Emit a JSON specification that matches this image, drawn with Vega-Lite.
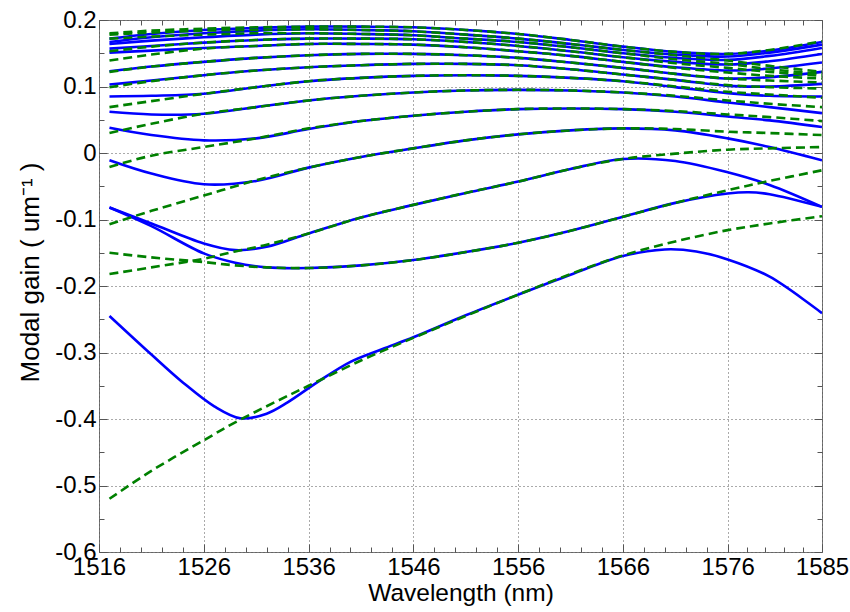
{
"$schema": "https://vega.github.io/schema/vega-lite/v6.json",
"width": 723, "height": 532,
"autosize": {"type": "none"},
"padding": {"left": 99, "top": 20, "right": 28, "bottom": 60},
"background": "white",
"config": {
  "view": {"stroke": "#777777", "strokeWidth": 1},
  "font": "Liberation Sans",
  "axis": {"labelFont": "Liberation Sans", "titleFont": "Liberation Sans", "labelFontSize": 24, "titleFontSize": 24.5, "labelColor": "#000000", "titleColor": "#000000", "titleFontWeight": "normal", "domain": false, "tickColor": "#555555", "tickWidth": 1, "gridColor": "#555555", "gridDash": [1, 3], "gridWidth": 1, "gridOpacity": 1, "labelFlush": false, "labelOverlap": false, "labelBound": false}
},
"datasets": {
"curves": [
{"c":"t1","k":"fit","wl":1517,"g":0.180},{"c":"t1","k":"fit","wl":1521,"g":0.184},{"c":"t1","k":"fit","wl":1526,"g":0.187},{"c":"t1","k":"fit","wl":1531,"g":0.189},{"c":"t1","k":"fit","wl":1536,"g":0.190},{"c":"t1","k":"fit","wl":1541,"g":0.190},{"c":"t1","k":"fit","wl":1546,"g":0.189},{"c":"t1","k":"fit","wl":1551,"g":0.185},{"c":"t1","k":"fit","wl":1556,"g":0.179},{"c":"t1","k":"fit","wl":1561,"g":0.170},{"c":"t1","k":"fit","wl":1566,"g":0.160},{"c":"t1","k":"fit","wl":1571,"g":0.152},{"c":"t1","k":"fit","wl":1576,"g":0.149},{"c":"t1","k":"fit","wl":1580,"g":0.155},{"c":"t1","k":"fit","wl":1585,"g":0.168},
{"c":"t1","k":"calc","wl":1517,"g":0.172},{"c":"t1","k":"calc","wl":1521,"g":0.179},{"c":"t1","k":"calc","wl":1526,"g":0.185},{"c":"t1","k":"calc","wl":1531,"g":0.188},{"c":"t1","k":"calc","wl":1536,"g":0.190},{"c":"t1","k":"calc","wl":1541,"g":0.190},{"c":"t1","k":"calc","wl":1546,"g":0.189},{"c":"t1","k":"calc","wl":1551,"g":0.185},{"c":"t1","k":"calc","wl":1556,"g":0.179},{"c":"t1","k":"calc","wl":1561,"g":0.170},{"c":"t1","k":"calc","wl":1566,"g":0.160},{"c":"t1","k":"calc","wl":1571,"g":0.152},{"c":"t1","k":"calc","wl":1576,"g":0.149},{"c":"t1","k":"calc","wl":1580,"g":0.154},{"c":"t1","k":"calc","wl":1585,"g":0.167},
{"c":"t2","k":"fit","wl":1517,"g":0.178},{"c":"t2","k":"fit","wl":1521,"g":0.181},{"c":"t2","k":"fit","wl":1526,"g":0.184},{"c":"t2","k":"fit","wl":1531,"g":0.185},{"c":"t2","k":"fit","wl":1536,"g":0.186},{"c":"t2","k":"fit","wl":1541,"g":0.185},{"c":"t2","k":"fit","wl":1546,"g":0.183},{"c":"t2","k":"fit","wl":1551,"g":0.178},{"c":"t2","k":"fit","wl":1556,"g":0.172},{"c":"t2","k":"fit","wl":1561,"g":0.164},{"c":"t2","k":"fit","wl":1566,"g":0.155},{"c":"t2","k":"fit","wl":1571,"g":0.147},{"c":"t2","k":"fit","wl":1576,"g":0.139},{"c":"t2","k":"fit","wl":1580,"g":0.131},{"c":"t2","k":"fit","wl":1585,"g":0.122},
{"c":"t2","k":"calc","wl":1517,"g":0.167},{"c":"t2","k":"calc","wl":1521,"g":0.174},{"c":"t2","k":"calc","wl":1526,"g":0.180},{"c":"t2","k":"calc","wl":1531,"g":0.184},{"c":"t2","k":"calc","wl":1536,"g":0.186},{"c":"t2","k":"calc","wl":1541,"g":0.185},{"c":"t2","k":"calc","wl":1546,"g":0.183},{"c":"t2","k":"calc","wl":1551,"g":0.178},{"c":"t2","k":"calc","wl":1556,"g":0.172},{"c":"t2","k":"calc","wl":1561,"g":0.164},{"c":"t2","k":"calc","wl":1566,"g":0.155},{"c":"t2","k":"calc","wl":1571,"g":0.148},{"c":"t2","k":"calc","wl":1576,"g":0.145},{"c":"t2","k":"calc","wl":1580,"g":0.151},{"c":"t2","k":"calc","wl":1585,"g":0.163},
{"c":"t3","k":"fit","wl":1517,"g":0.172},{"c":"t3","k":"fit","wl":1521,"g":0.175},{"c":"t3","k":"fit","wl":1526,"g":0.178},{"c":"t3","k":"fit","wl":1531,"g":0.180},{"c":"t3","k":"fit","wl":1536,"g":0.180},{"c":"t3","k":"fit","wl":1541,"g":0.179},{"c":"t3","k":"fit","wl":1546,"g":0.177},{"c":"t3","k":"fit","wl":1551,"g":0.172},{"c":"t3","k":"fit","wl":1556,"g":0.167},{"c":"t3","k":"fit","wl":1561,"g":0.159},{"c":"t3","k":"fit","wl":1566,"g":0.150},{"c":"t3","k":"fit","wl":1571,"g":0.141},{"c":"t3","k":"fit","wl":1576,"g":0.134},{"c":"t3","k":"fit","wl":1580,"g":0.126},{"c":"t3","k":"fit","wl":1585,"g":0.119},
{"c":"t3","k":"calc","wl":1517,"g":0.164},{"c":"t3","k":"calc","wl":1521,"g":0.169},{"c":"t3","k":"calc","wl":1526,"g":0.174},{"c":"t3","k":"calc","wl":1531,"g":0.178},{"c":"t3","k":"calc","wl":1536,"g":0.180},{"c":"t3","k":"calc","wl":1541,"g":0.179},{"c":"t3","k":"calc","wl":1546,"g":0.177},{"c":"t3","k":"calc","wl":1551,"g":0.172},{"c":"t3","k":"calc","wl":1556,"g":0.167},{"c":"t3","k":"calc","wl":1561,"g":0.159},{"c":"t3","k":"calc","wl":1566,"g":0.150},{"c":"t3","k":"calc","wl":1571,"g":0.143},{"c":"t3","k":"calc","wl":1576,"g":0.140},{"c":"t3","k":"calc","wl":1580,"g":0.146},{"c":"t3","k":"calc","wl":1585,"g":0.158},
{"c":"t4","k":"fit","wl":1517,"g":0.153},{"c":"t4","k":"fit","wl":1521,"g":0.160},{"c":"t4","k":"fit","wl":1526,"g":0.166},{"c":"t4","k":"fit","wl":1531,"g":0.170},{"c":"t4","k":"fit","wl":1536,"g":0.172},{"c":"t4","k":"fit","wl":1541,"g":0.172},{"c":"t4","k":"fit","wl":1546,"g":0.171},{"c":"t4","k":"fit","wl":1551,"g":0.167},{"c":"t4","k":"fit","wl":1556,"g":0.161},{"c":"t4","k":"fit","wl":1561,"g":0.153},{"c":"t4","k":"fit","wl":1566,"g":0.144},{"c":"t4","k":"fit","wl":1571,"g":0.135},{"c":"t4","k":"fit","wl":1576,"g":0.128},{"c":"t4","k":"fit","wl":1580,"g":0.122},{"c":"t4","k":"fit","wl":1585,"g":0.116},
{"c":"t4","k":"calc","wl":1517,"g":0.157},{"c":"t4","k":"calc","wl":1521,"g":0.161},{"c":"t4","k":"calc","wl":1526,"g":0.166},{"c":"t4","k":"calc","wl":1531,"g":0.170},{"c":"t4","k":"calc","wl":1536,"g":0.172},{"c":"t4","k":"calc","wl":1541,"g":0.172},{"c":"t4","k":"calc","wl":1546,"g":0.171},{"c":"t4","k":"calc","wl":1551,"g":0.167},{"c":"t4","k":"calc","wl":1556,"g":0.161},{"c":"t4","k":"calc","wl":1561,"g":0.153},{"c":"t4","k":"calc","wl":1566,"g":0.144},{"c":"t4","k":"calc","wl":1571,"g":0.137},{"c":"t4","k":"calc","wl":1576,"g":0.133},{"c":"t4","k":"calc","wl":1580,"g":0.138},{"c":"t4","k":"calc","wl":1585,"g":0.149},
{"c":"t5","k":"fit","wl":1517,"g":0.139},{"c":"t5","k":"fit","wl":1521,"g":0.148},{"c":"t5","k":"fit","wl":1526,"g":0.157},{"c":"t5","k":"fit","wl":1531,"g":0.161},{"c":"t5","k":"fit","wl":1536,"g":0.164},{"c":"t5","k":"fit","wl":1541,"g":0.164},{"c":"t5","k":"fit","wl":1546,"g":0.163},{"c":"t5","k":"fit","wl":1551,"g":0.159},{"c":"t5","k":"fit","wl":1556,"g":0.153},{"c":"t5","k":"fit","wl":1561,"g":0.146},{"c":"t5","k":"fit","wl":1566,"g":0.137},{"c":"t5","k":"fit","wl":1571,"g":0.128},{"c":"t5","k":"fit","wl":1576,"g":0.121},{"c":"t5","k":"fit","wl":1580,"g":0.116},{"c":"t5","k":"fit","wl":1585,"g":0.112},
{"c":"t5","k":"calc","wl":1517,"g":0.151},{"c":"t5","k":"calc","wl":1521,"g":0.154},{"c":"t5","k":"calc","wl":1526,"g":0.158},{"c":"t5","k":"calc","wl":1531,"g":0.161},{"c":"t5","k":"calc","wl":1536,"g":0.164},{"c":"t5","k":"calc","wl":1541,"g":0.164},{"c":"t5","k":"calc","wl":1546,"g":0.163},{"c":"t5","k":"calc","wl":1551,"g":0.159},{"c":"t5","k":"calc","wl":1556,"g":0.153},{"c":"t5","k":"calc","wl":1561,"g":0.146},{"c":"t5","k":"calc","wl":1566,"g":0.137},{"c":"t5","k":"calc","wl":1571,"g":0.129},{"c":"t5","k":"calc","wl":1576,"g":0.124},{"c":"t5","k":"calc","wl":1580,"g":0.127},{"c":"t5","k":"calc","wl":1585,"g":0.136},
{"c":"p6","k":"fit","wl":1517,"g":0.122},{"c":"p6","k":"fit","wl":1521,"g":0.130},{"c":"p6","k":"fit","wl":1526,"g":0.137},{"c":"p6","k":"fit","wl":1531,"g":0.143},{"c":"p6","k":"fit","wl":1536,"g":0.147},{"c":"p6","k":"fit","wl":1541,"g":0.149},{"c":"p6","k":"fit","wl":1546,"g":0.149},{"c":"p6","k":"fit","wl":1551,"g":0.147},{"c":"p6","k":"fit","wl":1556,"g":0.143},{"c":"p6","k":"fit","wl":1561,"g":0.136},{"c":"p6","k":"fit","wl":1566,"g":0.128},{"c":"p6","k":"fit","wl":1571,"g":0.119},{"c":"p6","k":"fit","wl":1576,"g":0.112},{"c":"p6","k":"fit","wl":1580,"g":0.109},{"c":"p6","k":"fit","wl":1585,"g":0.106},
{"c":"p6","k":"calc","wl":1517,"g":0.123},{"c":"p6","k":"calc","wl":1521,"g":0.130},{"c":"p6","k":"calc","wl":1526,"g":0.137},{"c":"p6","k":"calc","wl":1531,"g":0.143},{"c":"p6","k":"calc","wl":1536,"g":0.147},{"c":"p6","k":"calc","wl":1541,"g":0.149},{"c":"p6","k":"calc","wl":1546,"g":0.149},{"c":"p6","k":"calc","wl":1551,"g":0.147},{"c":"p6","k":"calc","wl":1556,"g":0.143},{"c":"p6","k":"calc","wl":1561,"g":0.136},{"c":"p6","k":"calc","wl":1566,"g":0.128},{"c":"p6","k":"calc","wl":1571,"g":0.119},{"c":"p6","k":"calc","wl":1576,"g":0.112},{"c":"p6","k":"calc","wl":1580,"g":0.114},{"c":"p6","k":"calc","wl":1585,"g":0.122},
{"c":"p7","k":"fit","wl":1517,"g":0.099},{"c":"p7","k":"fit","wl":1521,"g":0.108},{"c":"p7","k":"fit","wl":1526,"g":0.117},{"c":"p7","k":"fit","wl":1531,"g":0.124},{"c":"p7","k":"fit","wl":1536,"g":0.129},{"c":"p7","k":"fit","wl":1541,"g":0.132},{"c":"p7","k":"fit","wl":1546,"g":0.134},{"c":"p7","k":"fit","wl":1551,"g":0.134},{"c":"p7","k":"fit","wl":1556,"g":0.132},{"c":"p7","k":"fit","wl":1561,"g":0.126},{"c":"p7","k":"fit","wl":1566,"g":0.118},{"c":"p7","k":"fit","wl":1571,"g":0.110},{"c":"p7","k":"fit","wl":1576,"g":0.102},{"c":"p7","k":"fit","wl":1580,"g":0.099},{"c":"p7","k":"fit","wl":1585,"g":0.097},
{"c":"p7","k":"calc","wl":1517,"g":0.103},{"c":"p7","k":"calc","wl":1521,"g":0.109},{"c":"p7","k":"calc","wl":1526,"g":0.117},{"c":"p7","k":"calc","wl":1531,"g":0.124},{"c":"p7","k":"calc","wl":1536,"g":0.129},{"c":"p7","k":"calc","wl":1541,"g":0.132},{"c":"p7","k":"calc","wl":1546,"g":0.134},{"c":"p7","k":"calc","wl":1551,"g":0.134},{"c":"p7","k":"calc","wl":1556,"g":0.132},{"c":"p7","k":"calc","wl":1561,"g":0.126},{"c":"p7","k":"calc","wl":1566,"g":0.118},{"c":"p7","k":"calc","wl":1571,"g":0.110},{"c":"p7","k":"calc","wl":1576,"g":0.101},{"c":"p7","k":"calc","wl":1580,"g":0.100},{"c":"p7","k":"calc","wl":1585,"g":0.104},
{"c":"p8","k":"fit","wl":1517,"g":0.069},{"c":"p8","k":"fit","wl":1521,"g":0.078},{"c":"p8","k":"fit","wl":1526,"g":0.089},{"c":"p8","k":"fit","wl":1531,"g":0.099},{"c":"p8","k":"fit","wl":1536,"g":0.108},{"c":"p8","k":"fit","wl":1541,"g":0.113},{"c":"p8","k":"fit","wl":1546,"g":0.116},{"c":"p8","k":"fit","wl":1551,"g":0.117},{"c":"p8","k":"fit","wl":1556,"g":0.116},{"c":"p8","k":"fit","wl":1561,"g":0.113},{"c":"p8","k":"fit","wl":1566,"g":0.108},{"c":"p8","k":"fit","wl":1571,"g":0.100},{"c":"p8","k":"fit","wl":1576,"g":0.092},{"c":"p8","k":"fit","wl":1580,"g":0.088},{"c":"p8","k":"fit","wl":1585,"g":0.083},
{"c":"p8","k":"calc","wl":1517,"g":0.085},{"c":"p8","k":"calc","wl":1521,"g":0.086},{"c":"p8","k":"calc","wl":1526,"g":0.089},{"c":"p8","k":"calc","wl":1531,"g":0.099},{"c":"p8","k":"calc","wl":1536,"g":0.108},{"c":"p8","k":"calc","wl":1541,"g":0.113},{"c":"p8","k":"calc","wl":1546,"g":0.116},{"c":"p8","k":"calc","wl":1551,"g":0.117},{"c":"p8","k":"calc","wl":1556,"g":0.116},{"c":"p8","k":"calc","wl":1561,"g":0.113},{"c":"p8","k":"calc","wl":1566,"g":0.108},{"c":"p8","k":"calc","wl":1571,"g":0.099},{"c":"p8","k":"calc","wl":1576,"g":0.090},{"c":"p8","k":"calc","wl":1580,"g":0.086},{"c":"p8","k":"calc","wl":1585,"g":0.085},
{"c":"p9","k":"fit","wl":1517,"g":0.030},{"c":"p9","k":"fit","wl":1521,"g":0.044},{"c":"p9","k":"fit","wl":1526,"g":0.059},{"c":"p9","k":"fit","wl":1531,"g":0.069},{"c":"p9","k":"fit","wl":1536,"g":0.079},{"c":"p9","k":"fit","wl":1541,"g":0.086},{"c":"p9","k":"fit","wl":1546,"g":0.091},{"c":"p9","k":"fit","wl":1551,"g":0.094},{"c":"p9","k":"fit","wl":1556,"g":0.095},{"c":"p9","k":"fit","wl":1561,"g":0.094},{"c":"p9","k":"fit","wl":1566,"g":0.091},{"c":"p9","k":"fit","wl":1571,"g":0.086},{"c":"p9","k":"fit","wl":1576,"g":0.079},{"c":"p9","k":"fit","wl":1580,"g":0.074},{"c":"p9","k":"fit","wl":1585,"g":0.069},
{"c":"p9","k":"calc","wl":1517,"g":0.062},{"c":"p9","k":"calc","wl":1521,"g":0.058},{"c":"p9","k":"calc","wl":1526,"g":0.059},{"c":"p9","k":"calc","wl":1531,"g":0.069},{"c":"p9","k":"calc","wl":1536,"g":0.079},{"c":"p9","k":"calc","wl":1541,"g":0.086},{"c":"p9","k":"calc","wl":1546,"g":0.091},{"c":"p9","k":"calc","wl":1551,"g":0.094},{"c":"p9","k":"calc","wl":1556,"g":0.095},{"c":"p9","k":"calc","wl":1561,"g":0.094},{"c":"p9","k":"calc","wl":1566,"g":0.091},{"c":"p9","k":"calc","wl":1571,"g":0.085},{"c":"p9","k":"calc","wl":1576,"g":0.076},{"c":"p9","k":"calc","wl":1580,"g":0.069},{"c":"p9","k":"calc","wl":1585,"g":0.060},
{"c":"p10","k":"fit","wl":1517,"g":-0.021},{"c":"p10","k":"fit","wl":1521,"g":-0.004},{"c":"p10","k":"fit","wl":1526,"g":0.009},{"c":"p10","k":"fit","wl":1531,"g":0.022},{"c":"p10","k":"fit","wl":1536,"g":0.037},{"c":"p10","k":"fit","wl":1541,"g":0.048},{"c":"p10","k":"fit","wl":1546,"g":0.056},{"c":"p10","k":"fit","wl":1551,"g":0.062},{"c":"p10","k":"fit","wl":1556,"g":0.066},{"c":"p10","k":"fit","wl":1561,"g":0.067},{"c":"p10","k":"fit","wl":1566,"g":0.066},{"c":"p10","k":"fit","wl":1571,"g":0.063},{"c":"p10","k":"fit","wl":1576,"g":0.058},{"c":"p10","k":"fit","wl":1580,"g":0.054},{"c":"p10","k":"fit","wl":1585,"g":0.048},
{"c":"p10","k":"calc","wl":1517,"g":0.038},{"c":"p10","k":"calc","wl":1521,"g":0.027},{"c":"p10","k":"calc","wl":1526,"g":0.019},{"c":"p10","k":"calc","wl":1531,"g":0.022},{"c":"p10","k":"calc","wl":1536,"g":0.036},{"c":"p10","k":"calc","wl":1541,"g":0.048},{"c":"p10","k":"calc","wl":1546,"g":0.056},{"c":"p10","k":"calc","wl":1551,"g":0.062},{"c":"p10","k":"calc","wl":1556,"g":0.066},{"c":"p10","k":"calc","wl":1561,"g":0.067},{"c":"p10","k":"calc","wl":1566,"g":0.066},{"c":"p10","k":"calc","wl":1571,"g":0.062},{"c":"p10","k":"calc","wl":1576,"g":0.055},{"c":"p10","k":"calc","wl":1580,"g":0.049},{"c":"p10","k":"calc","wl":1585,"g":0.039},
{"c":"p11","k":"fit","wl":1517,"g":-0.107},{"c":"p11","k":"fit","wl":1521,"g":-0.087},{"c":"p11","k":"fit","wl":1526,"g":-0.064},{"c":"p11","k":"fit","wl":1531,"g":-0.041},{"c":"p11","k":"fit","wl":1536,"g":-0.022},{"c":"p11","k":"fit","wl":1541,"g":-0.006},{"c":"p11","k":"fit","wl":1546,"g":0.007},{"c":"p11","k":"fit","wl":1551,"g":0.019},{"c":"p11","k":"fit","wl":1556,"g":0.028},{"c":"p11","k":"fit","wl":1561,"g":0.034},{"c":"p11","k":"fit","wl":1566,"g":0.037},{"c":"p11","k":"fit","wl":1571,"g":0.036},{"c":"p11","k":"fit","wl":1576,"g":0.032},{"c":"p11","k":"fit","wl":1580,"g":0.030},{"c":"p11","k":"fit","wl":1585,"g":0.027},
{"c":"p11","k":"calc","wl":1517,"g":-0.011},{"c":"p11","k":"calc","wl":1521,"g":-0.031},{"c":"p11","k":"calc","wl":1526,"g":-0.047},{"c":"p11","k":"calc","wl":1531,"g":-0.042},{"c":"p11","k":"calc","wl":1536,"g":-0.022},{"c":"p11","k":"calc","wl":1541,"g":-0.006},{"c":"p11","k":"calc","wl":1546,"g":0.007},{"c":"p11","k":"calc","wl":1551,"g":0.019},{"c":"p11","k":"calc","wl":1556,"g":0.028},{"c":"p11","k":"calc","wl":1561,"g":0.034},{"c":"p11","k":"calc","wl":1566,"g":0.037},{"c":"p11","k":"calc","wl":1571,"g":0.034},{"c":"p11","k":"calc","wl":1576,"g":0.022},{"c":"p11","k":"calc","wl":1580,"g":0.009},{"c":"p11","k":"calc","wl":1585,"g":-0.011},
{"c":"p12","k":"fit","wl":1517,"g":-0.182},{"c":"p12","k":"fit","wl":1521,"g":-0.172},{"c":"p12","k":"fit","wl":1526,"g":-0.159},{"c":"p12","k":"fit","wl":1529,"g":-0.148},{"c":"p12","k":"fit","wl":1532,"g":-0.138},{"c":"p12","k":"fit","wl":1536,"g":-0.121},{"c":"p12","k":"fit","wl":1541,"g":-0.097},{"c":"p12","k":"fit","wl":1546,"g":-0.078},{"c":"p12","k":"fit","wl":1551,"g":-0.060},{"c":"p12","k":"fit","wl":1556,"g":-0.043},{"c":"p12","k":"fit","wl":1561,"g":-0.024},{"c":"p12","k":"fit","wl":1566,"g":-0.009},{"c":"p12","k":"fit","wl":1571,"g":-0.001},{"c":"p12","k":"fit","wl":1576,"g":0.005},{"c":"p12","k":"fit","wl":1580,"g":0.007},{"c":"p12","k":"fit","wl":1585,"g":0.009},
{"c":"p12","k":"calc","wl":1517,"g":-0.082},{"c":"p12","k":"calc","wl":1521,"g":-0.106},{"c":"p12","k":"calc","wl":1526,"g":-0.136},{"c":"p12","k":"calc","wl":1529,"g":-0.146},{"c":"p12","k":"calc","wl":1532,"g":-0.141},{"c":"p12","k":"calc","wl":1536,"g":-0.121},{"c":"p12","k":"calc","wl":1541,"g":-0.097},{"c":"p12","k":"calc","wl":1546,"g":-0.078},{"c":"p12","k":"calc","wl":1551,"g":-0.060},{"c":"p12","k":"calc","wl":1556,"g":-0.043},{"c":"p12","k":"calc","wl":1561,"g":-0.024},{"c":"p12","k":"calc","wl":1566,"g":-0.009},{"c":"p12","k":"calc","wl":1571,"g":-0.012},{"c":"p12","k":"calc","wl":1576,"g":-0.029},{"c":"p12","k":"calc","wl":1580,"g":-0.048},{"c":"p12","k":"calc","wl":1585,"g":-0.081},
{"c":"p13","k":"fit","wl":1517,"g":-0.150},{"c":"p13","k":"fit","wl":1521,"g":-0.157},{"c":"p13","k":"fit","wl":1526,"g":-0.164},{"c":"p13","k":"fit","wl":1529,"g":-0.169},{"c":"p13","k":"fit","wl":1532,"g":-0.172},{"c":"p13","k":"fit","wl":1536,"g":-0.173},{"c":"p13","k":"fit","wl":1541,"g":-0.169},{"c":"p13","k":"fit","wl":1546,"g":-0.161},{"c":"p13","k":"fit","wl":1551,"g":-0.149},{"c":"p13","k":"fit","wl":1556,"g":-0.135},{"c":"p13","k":"fit","wl":1561,"g":-0.117},{"c":"p13","k":"fit","wl":1566,"g":-0.096},{"c":"p13","k":"fit","wl":1571,"g":-0.075},{"c":"p13","k":"fit","wl":1576,"g":-0.056},{"c":"p13","k":"fit","wl":1580,"g":-0.042},{"c":"p13","k":"fit","wl":1585,"g":-0.026},
{"c":"p13","k":"calc","wl":1517,"g":-0.082},{"c":"p13","k":"calc","wl":1521,"g":-0.110},{"c":"p13","k":"calc","wl":1526,"g":-0.151},{"c":"p13","k":"calc","wl":1529,"g":-0.165},{"c":"p13","k":"calc","wl":1532,"g":-0.172},{"c":"p13","k":"calc","wl":1536,"g":-0.173},{"c":"p13","k":"calc","wl":1541,"g":-0.169},{"c":"p13","k":"calc","wl":1546,"g":-0.161},{"c":"p13","k":"calc","wl":1551,"g":-0.149},{"c":"p13","k":"calc","wl":1556,"g":-0.135},{"c":"p13","k":"calc","wl":1561,"g":-0.117},{"c":"p13","k":"calc","wl":1566,"g":-0.096},{"c":"p13","k":"calc","wl":1571,"g":-0.075},{"c":"p13","k":"calc","wl":1576,"g":-0.061},{"c":"p13","k":"calc","wl":1578,"g":-0.059},{"c":"p13","k":"calc","wl":1580,"g":-0.062},{"c":"p13","k":"calc","wl":1585,"g":-0.081},
{"c":"p14","k":"fit","wl":1517,"g":-0.520},{"c":"p14","k":"fit","wl":1521,"g":-0.478},{"c":"p14","k":"fit","wl":1526,"g":-0.432},{"c":"p14","k":"fit","wl":1529,"g":-0.405},{"c":"p14","k":"fit","wl":1533,"g":-0.373},{"c":"p14","k":"fit","wl":1536,"g":-0.350},{"c":"p14","k":"fit","wl":1541,"g":-0.312},{"c":"p14","k":"fit","wl":1546,"g":-0.278},{"c":"p14","k":"fit","wl":1551,"g":-0.245},{"c":"p14","k":"fit","wl":1556,"g":-0.213},{"c":"p14","k":"fit","wl":1561,"g":-0.182},{"c":"p14","k":"fit","wl":1566,"g":-0.154},{"c":"p14","k":"fit","wl":1571,"g":-0.133},{"c":"p14","k":"fit","wl":1576,"g":-0.116},{"c":"p14","k":"fit","wl":1580,"g":-0.106},{"c":"p14","k":"fit","wl":1585,"g":-0.095},
{"c":"p14","k":"calc","wl":1517,"g":-0.245},{"c":"p14","k":"calc","wl":1521,"g":-0.303},{"c":"p14","k":"calc","wl":1524,"g":-0.345},{"c":"p14","k":"calc","wl":1527,"g":-0.381},{"c":"p14","k":"calc","wl":1529.5,"g":-0.399},{"c":"p14","k":"calc","wl":1532,"g":-0.392},{"c":"p14","k":"calc","wl":1534,"g":-0.375},{"c":"p14","k":"calc","wl":1537,"g":-0.343},{"c":"p14","k":"calc","wl":1540,"g":-0.314},{"c":"p14","k":"calc","wl":1543,"g":-0.295},{"c":"p14","k":"calc","wl":1546,"g":-0.277},{"c":"p14","k":"calc","wl":1551,"g":-0.244},{"c":"p14","k":"calc","wl":1556,"g":-0.213},{"c":"p14","k":"calc","wl":1561,"g":-0.183},{"c":"p14","k":"calc","wl":1566,"g":-0.155},{"c":"p14","k":"calc","wl":1570,"g":-0.145},{"c":"p14","k":"calc","wl":1573,"g":-0.148},{"c":"p14","k":"calc","wl":1576,"g":-0.160},{"c":"p14","k":"calc","wl":1580,"g":-0.186},{"c":"p14","k":"calc","wl":1585,"g":-0.241}
]
},
"data": {"name": "curves"},
"layer": [
  {
    "transform": [{"filter": "datum.k == 'calc'"}],
    "mark": {"type": "line", "color": "#0000ff", "strokeWidth": 2.6, "interpolate": "catmull-rom", "clip": true},
    "encoding": {
      "x": {"field": "wl", "type": "quantitative", "scale": {"domain": [1516, 1585], "nice": false, "zero": false},
            "axis": {"orient": "bottom", "values": [1516, 1526, 1536, 1546, 1556, 1566, 1576, 1585], "format": "d", "grid": true, "tickSize": -8, "labelPadding": 11, "title": "Wavelength (nm)", "titlePadding": 2}},
      "y": {"field": "g", "type": "quantitative", "scale": {"domain": [-0.6, 0.2], "nice": false, "zero": false},
            "axis": {"orient": "left", "values": [-0.6, -0.5, -0.4, -0.3, -0.2, -0.1, 0, 0.1, 0.2], "labelExpr": "datum.value == 0 ? '0' : (datum.value < 0 ? '-' : '') + format(abs(datum.value), '.1f')", "grid": true, "tickSize": -8, "labelPadding": 11, "title": "Modal gain (  um⁻¹  )", "titleFontSize": 26, "titleY": 252, "titlePadding": 11}},
      "detail": {"field": "c"}
    }
  },
  {
    "transform": [{"filter": "datum.k == 'fit'"}],
    "mark": {"type": "line", "color": "#008000", "strokeWidth": 2.6, "strokeDash": [9, 5], "interpolate": "catmull-rom", "clip": true},
    "encoding": {
      "x": {"field": "wl", "type": "quantitative",
            "axis": {"orient": "bottom", "values": [1518, 1520, 1522, 1524, 1528, 1530, 1532, 1534, 1538, 1540, 1542, 1544, 1548, 1550, 1552, 1554, 1558, 1560, 1562, 1564, 1568, 1570, 1572, 1574, 1577.8, 1579.6, 1581.4, 1583.2], "labels": false, "grid": false, "tickSize": -5, "title": null}},
      "y": {"field": "g", "type": "quantitative",
            "axis": {"orient": "left", "values": [-0.55, -0.45, -0.35, -0.25, -0.15, -0.05, 0.05, 0.15], "labels": false, "grid": false, "tickSize": -5, "title": null}},
      "detail": {"field": "c"}
    }
  },
  {
    "transform": [{"filter": "datum.wl < 0"}],
    "mark": {"type": "line", "opacity": 0},
    "encoding": {
      "x": {"field": "wl", "type": "quantitative",
            "axis": {"orient": "top", "values": [1516, 1526, 1536, 1546, 1556, 1566, 1576, 1585], "labels": false, "grid": false, "tickSize": -8, "title": null}},
      "y": {"field": "g", "type": "quantitative",
            "axis": {"orient": "right", "values": [-0.6, -0.5, -0.4, -0.3, -0.2, -0.1, 0, 0.1, 0.2], "labels": false, "grid": false, "tickSize": -8, "title": null}}
    }
  },
  {
    "transform": [{"filter": "datum.wl < 0"}],
    "mark": {"type": "line", "opacity": 0},
    "encoding": {
      "x": {"field": "wl", "type": "quantitative",
            "axis": {"orient": "top", "values": [1518, 1520, 1522, 1524, 1528, 1530, 1532, 1534, 1538, 1540, 1542, 1544, 1548, 1550, 1552, 1554, 1558, 1560, 1562, 1564, 1568, 1570, 1572, 1574, 1577.8, 1579.6, 1581.4, 1583.2], "labels": false, "grid": false, "tickSize": -5, "title": null}},
      "y": {"field": "g", "type": "quantitative",
            "axis": {"orient": "right", "values": [-0.55, -0.45, -0.35, -0.25, -0.15, -0.05, 0.05, 0.15], "labels": false, "grid": false, "tickSize": -5, "title": null}}
    }
  }
]
}
